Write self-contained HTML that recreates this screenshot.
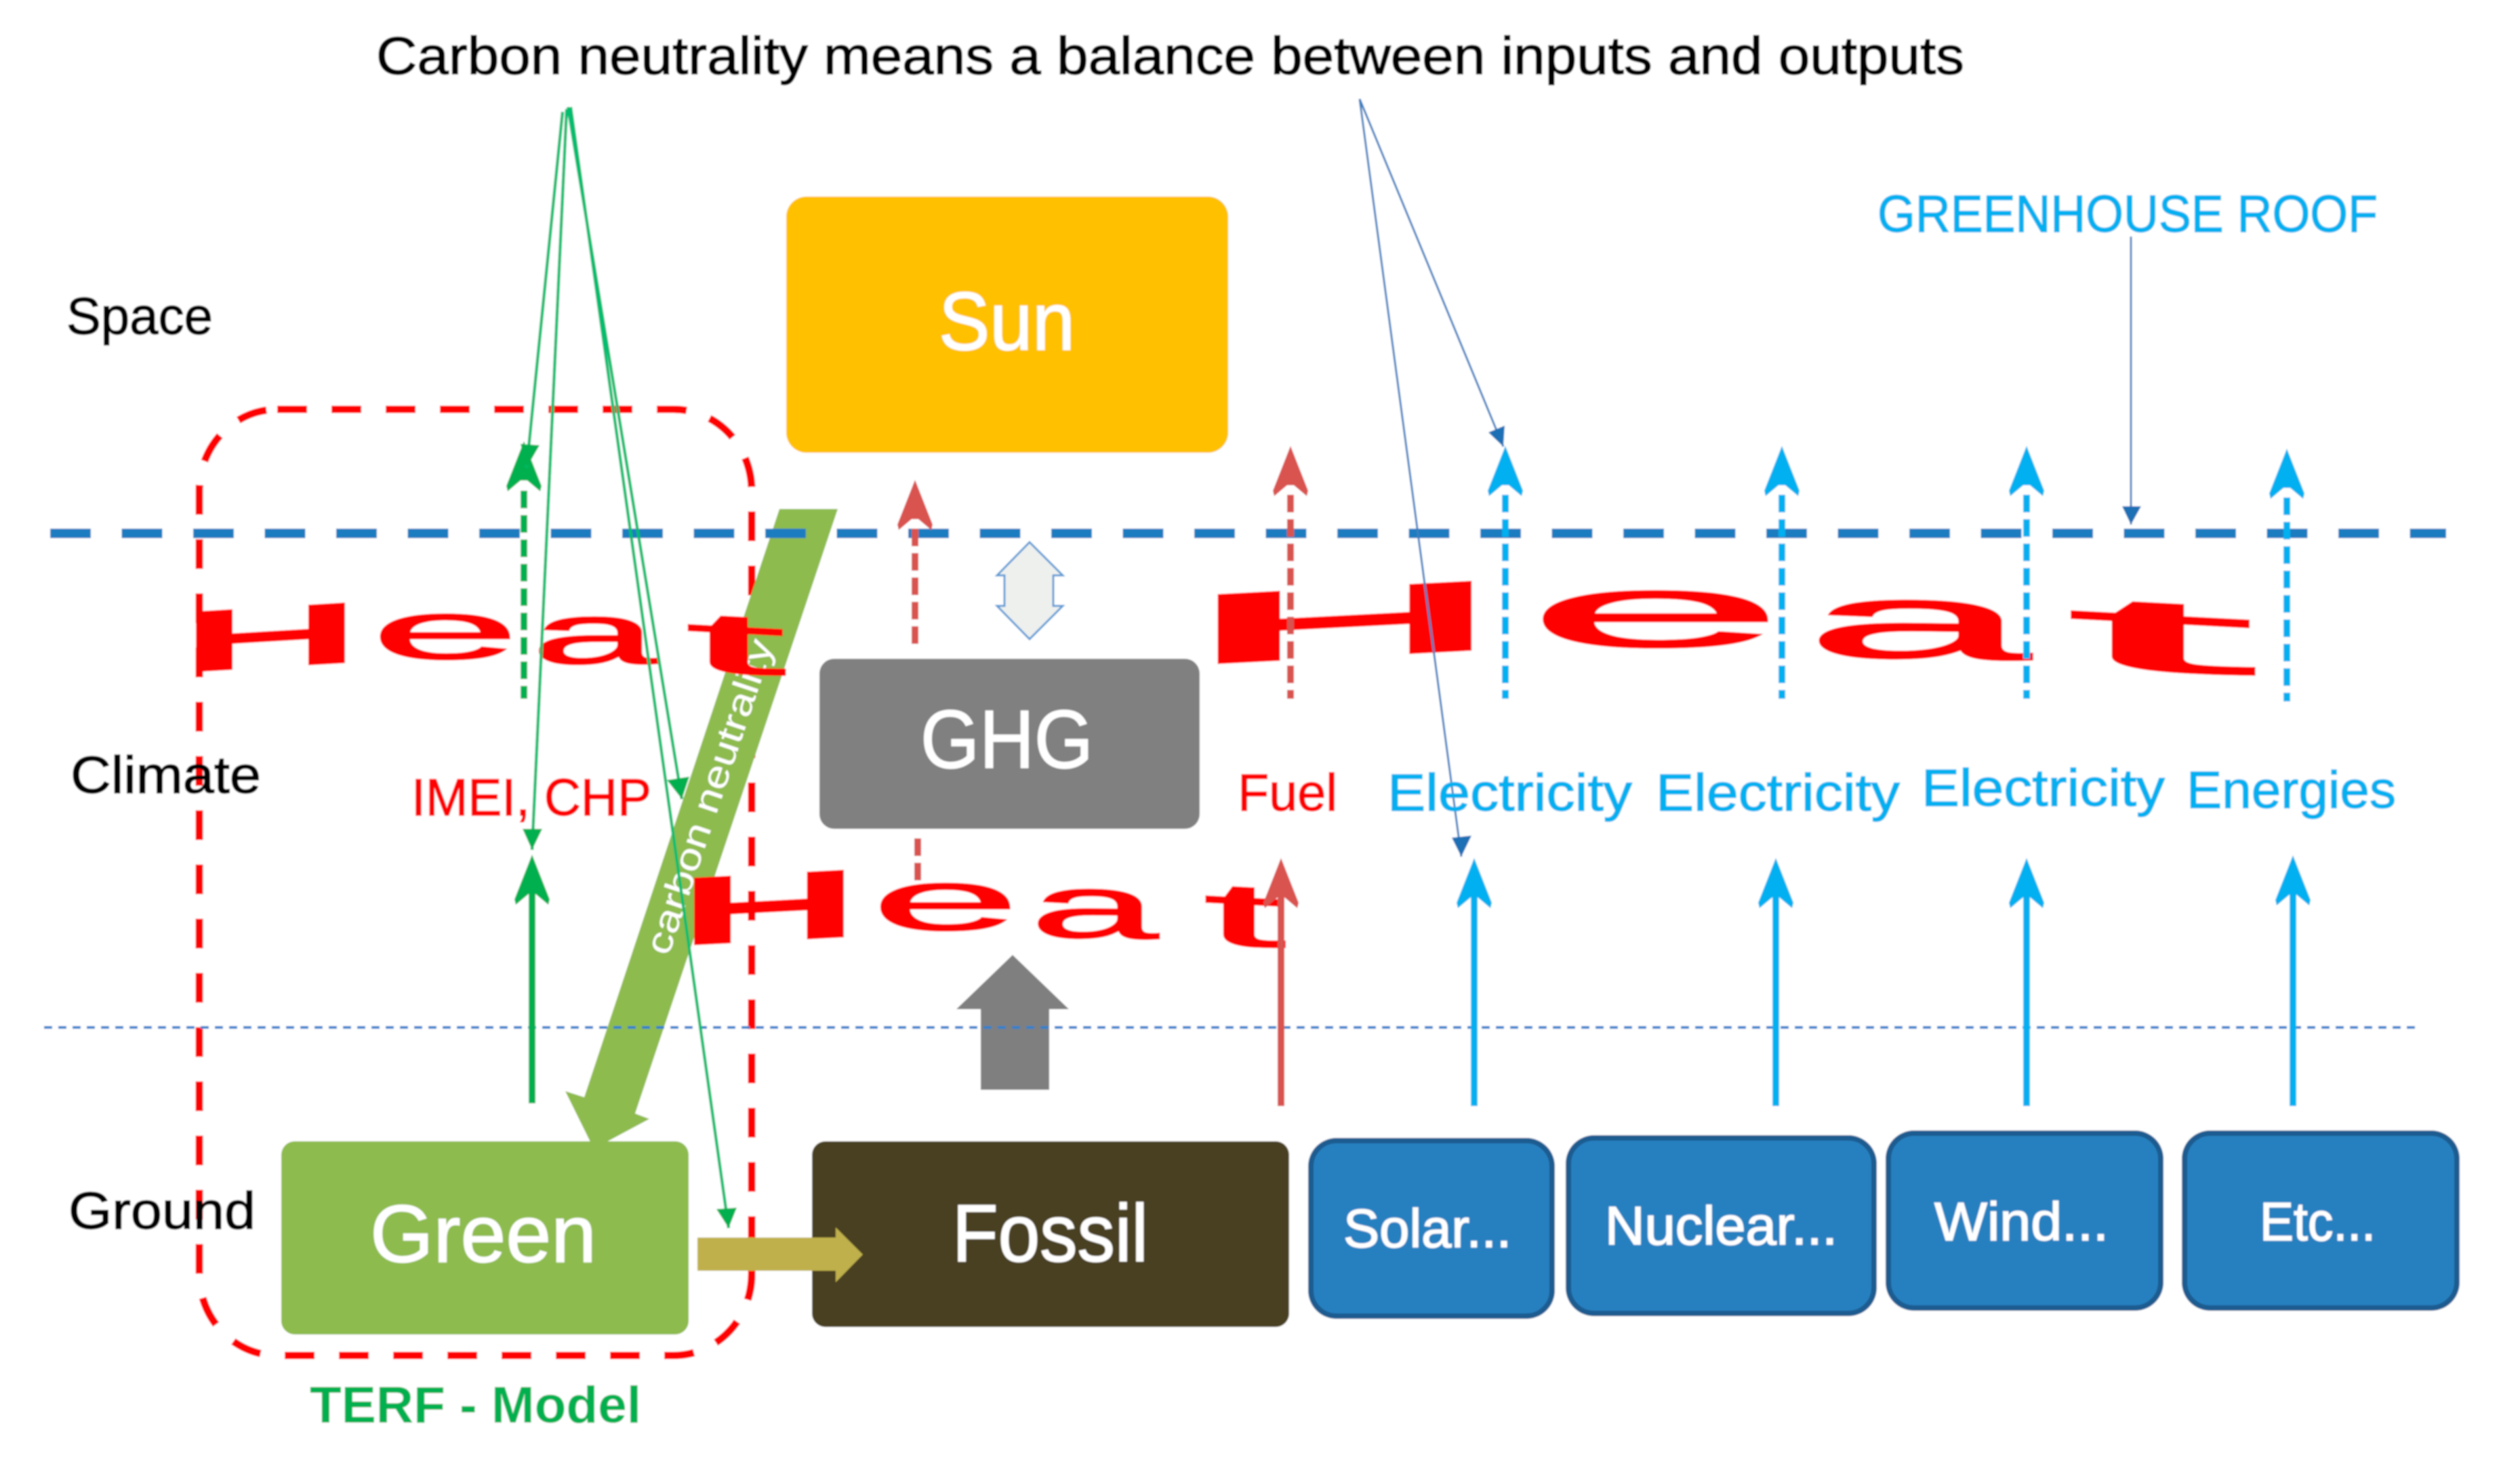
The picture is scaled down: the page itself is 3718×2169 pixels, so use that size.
<!DOCTYPE html>
<html>
<head>
<meta charset="utf-8">
<style>
html,body{margin:0;padding:0;background:#fff;width:3718px;height:2169px;overflow:hidden}
svg{display:block}
text{font-family:"Liberation Sans",sans-serif}
</style>
</head>
<body>
<svg xmlns="http://www.w3.org/2000/svg" width="3718" height="2169" viewBox="0 0 3718 2169">
<defs>
<filter id="soft" x="0" y="0" width="100%" height="100%"><feGaussianBlur stdDeviation="1"/></filter>
<polygon id="head" points="0,-4 26,62 24,70 5,54 -5,54 -24,70 -26,62"/>
</defs>
<g filter="url(#soft)">
<rect width="3718" height="2169" fill="#fff"/>

<!-- TERF boundary -->
<rect x="294" y="604" width="815" height="1396" rx="115" ry="120" fill="none" stroke="#f00" stroke-width="11" stroke-dasharray="44 36"/>

<!-- boxes -->
<rect x="1160" y="290" width="652" height="378" rx="30" fill="#FFC000"/>
<rect x="1209" y="972" width="561" height="251" rx="22" fill="#808080"/>
<rect x="415" y="1684" width="601" height="285" rx="20" fill="#8DBB4E"/>
<rect x="1198" y="1684" width="704" height="274" rx="20" fill="#4A3F21"/>
<g fill="#2880C0" stroke="#1A5C90" stroke-width="8">
<rect x="1934" y="1683" width="356" height="259" rx="38"/>
<rect x="2314" y="1679" width="451" height="259" rx="38"/>
<rect x="2786" y="1672" width="402" height="258" rx="38"/>
<rect x="3223" y="1672" width="402" height="258" rx="38"/>
</g>

<!-- big green arrow -->
<polygon points="1150,751 1236,751 937,1643 958,1651 876,1695 834,1610 862,1619" fill="#8DBB4E"/>
<text transform="translate(986,1412) rotate(-71.4)" font-size="54" fill="#fff" textLength="487" lengthAdjust="spacingAndGlyphs">carbon neutrality</text>

<!-- gold and gray block arrows -->
<polygon points="1029,1826 1233,1826 1233,1811 1273,1851 1233,1892 1233,1875 1029,1875" fill="#BFB04C"/>
<polygon points="1494,1409 1577,1489 1548,1489 1548,1608 1447,1608 1447,1489 1411,1489" fill="#7F7F7F"/>
<polygon points="1519,800 1568,849 1554,849 1554,894 1568,894 1519,943 1471,894 1482,894 1482,849 1471,849" fill="#EEF0EE" stroke="#5B9BD5" stroke-width="3"/>

<!-- Heat word art -->
<g fill="#f00">
<text transform="translate(264,993) skewY(-3.4)" font-weight="bold" font-size="130" textLength="270" lengthAdjust="spacingAndGlyphs">H</text>
<g stroke="#f00" stroke-width="2.5">
<text transform="translate(548,972)" font-size="122" textLength="218" lengthAdjust="spacingAndGlyphs">e</text>
<text transform="translate(784,979)" font-size="127" textLength="186" lengthAdjust="spacingAndGlyphs">a</text>
<text transform="translate(1012,989) skewY(3)" font-size="127" textLength="146" lengthAdjust="spacingAndGlyphs">t</text>
</g>

<text transform="translate(1754,982) skewY(-3)" font-weight="bold" font-size="150" textLength="460" lengthAdjust="spacingAndGlyphs">H</text>
<g stroke="#f00" stroke-width="3">
<text transform="translate(2254,954)" font-size="152" textLength="378" lengthAdjust="spacingAndGlyphs">e</text>
<text transform="translate(2664,968) skewY(1)" font-size="157" textLength="330" lengthAdjust="spacingAndGlyphs">a</text>
<text transform="translate(3050,982) skewY(3)" font-size="152" textLength="275" lengthAdjust="spacingAndGlyphs">t</text>
</g>

<text transform="translate(999,1396) skewY(-3)" font-weight="bold" font-size="145" textLength="271" lengthAdjust="spacingAndGlyphs">H</text>
<g stroke="#f00" stroke-width="2.5">
<text transform="translate(1286,1372)" font-size="127" textLength="218" lengthAdjust="spacingAndGlyphs">e</text>
<text transform="translate(1520,1382) skewY(1)" font-size="132" textLength="188" lengthAdjust="spacingAndGlyphs">a</text>
<text transform="translate(1776,1392) skewY(3)" font-size="132" textLength="120" lengthAdjust="spacingAndGlyphs">t</text>
</g>
</g>

<!-- horizontal dashed lines -->
<line x1="74" y1="787" x2="3609" y2="787" stroke="#1F7CC0" stroke-width="14" stroke-dasharray="60 45.5"/>
<line x1="65" y1="1516" x2="3564" y2="1516" stroke="#2F80CC" stroke-width="4" stroke-dasharray="12 9"/>

<!-- vertical arrows: dashed -->
<g stroke-width="10" stroke-dasharray="26 10" fill="none">
<line x1="773" y1="724" x2="773" y2="1031" stroke="#00B050"/>
<line x1="1350" y1="780" x2="1350" y2="956" stroke="#D9534F"/>
<line x1="1904" y1="730" x2="1904" y2="1031" stroke="#D9534F"/>
<line x1="2221" y1="730" x2="2221" y2="1031" stroke="#00B0F0"/>
<line x1="2629" y1="730" x2="2629" y2="1031" stroke="#00B0F0"/>
<line x1="2990" y1="730" x2="2990" y2="1031" stroke="#00B0F0"/>
<line x1="3374" y1="734" x2="3374" y2="1035" stroke="#00B0F0"/>
<line x1="1354" y1="1237" x2="1354" y2="1301" stroke="#D9534F"/>
</g>
<use href="#head" transform="translate(773,655)" fill="#00B050"/>
<use href="#head" transform="translate(1350,712)" fill="#D9534F"/>
<use href="#head" transform="translate(1904,662)" fill="#D9534F"/>
<use href="#head" transform="translate(2221,662)" fill="#00B0F0"/>
<use href="#head" transform="translate(2629,662)" fill="#00B0F0"/>
<use href="#head" transform="translate(2990,662)" fill="#00B0F0"/>
<use href="#head" transform="translate(3374,666)" fill="#00B0F0"/>

<!-- vertical arrows: solid -->
<g stroke-width="10" fill="none">
<line x1="785" y1="1310" x2="785" y2="1628" stroke="#00B050"/>
<line x1="1890" y1="1310" x2="1890" y2="1632" stroke="#D9534F"/>
<line x1="2175" y1="1310" x2="2175" y2="1632" stroke="#00B0F0"/>
<line x1="2620" y1="1310" x2="2620" y2="1632" stroke="#00B0F0"/>
<line x1="2990" y1="1310" x2="2990" y2="1632" stroke="#00B0F0"/>
<line x1="3383" y1="1306" x2="3383" y2="1632" stroke="#00B0F0"/>
</g>
<use href="#head" transform="translate(785,1265)" fill="#00B050"/>
<use href="#head" transform="translate(1890,1270)" fill="#D9534F"/>
<use href="#head" transform="translate(2175,1270)" fill="#00B0F0"/>
<use href="#head" transform="translate(2620,1270)" fill="#00B0F0"/>
<use href="#head" transform="translate(2990,1270)" fill="#00B0F0"/>
<use href="#head" transform="translate(3383,1266)" fill="#00B0F0"/>

<!-- thin green callouts -->
<g stroke="#00BD6F" stroke-width="4.5" fill="none">
<line x1="830" y1="165" x2="777" y2="690"/>
<line x1="836" y1="161" x2="785" y2="1254"/>
<line x1="838" y1="158" x2="1006" y2="1179"/>
<line x1="842" y1="158" x2="1075" y2="1812"/>
</g>
<g fill="#00B050">
<polygon points="777,690 768,655 796,657"/>
<polygon points="785,1254 771,1223 800,1223"/>
<polygon points="1006,1179 984,1151 1017,1146"/>
<polygon points="1075,1812 1057,1784 1087,1782"/>
</g>

<!-- thin blue callouts -->
<g stroke="#3A7FC0" stroke-width="3" fill="none">
<line x1="2006" y1="146" x2="2218" y2="659"/>
<line x1="2006" y1="146" x2="2156" y2="1264"/>
<line x1="3144" y1="349" x2="3144" y2="774"/>
</g>
<g fill="#1F6FB5">
<polygon points="2218,659 2196,638 2220,628"/>
<polygon points="2156,1264 2142,1236 2171,1233"/>
<polygon points="3144,774 3131,747 3159,747"/>
</g>

<!-- labels -->
<g stroke-width="1.4">
<text x="555" y="109" font-size="78" fill="#000" stroke="#000" textLength="2343" lengthAdjust="spacingAndGlyphs">Carbon neutrality means a balance between inputs and outputs</text>
<text x="98" y="493" font-size="77" fill="#000" stroke="#000" textLength="216" lengthAdjust="spacingAndGlyphs">Space</text>
<text x="104" y="1170" font-size="77" fill="#000" stroke="#000" textLength="281" lengthAdjust="spacingAndGlyphs">Climate</text>
<text x="101" y="1813" font-size="77" fill="#000" stroke="#000" textLength="276" lengthAdjust="spacingAndGlyphs">Ground</text>

<g fill="#fff" stroke="#fff">
<text x="1385" y="516" font-size="122" textLength="201" lengthAdjust="spacingAndGlyphs">Sun</text>
<text x="1358" y="1133" font-size="122" textLength="255" lengthAdjust="spacingAndGlyphs">GHG</text>
<text x="546" y="1862" font-size="120" textLength="334" lengthAdjust="spacingAndGlyphs">Green</text>
<text x="1405" y="1861" font-size="120" textLength="289" lengthAdjust="spacingAndGlyphs">Fossil</text>
<text x="1982" y="1840" font-size="80" textLength="248" lengthAdjust="spacingAndGlyphs">Solar...</text>
<text x="2368" y="1836" font-size="80" textLength="343" lengthAdjust="spacingAndGlyphs">Nuclear...</text>
<text x="2854" y="1830" font-size="80" textLength="257" lengthAdjust="spacingAndGlyphs">Wind...</text>
<text x="3334" y="1830" font-size="80" textLength="171" lengthAdjust="spacingAndGlyphs">Etc...</text>
</g>

<g fill="#f00" stroke="#f00" font-size="77">
<text x="607" y="1203" textLength="354" lengthAdjust="spacingAndGlyphs">IMEI, CHP</text>
<text x="1826" y="1196" textLength="147" lengthAdjust="spacingAndGlyphs">Fuel</text>
</g>
<g fill="#00B0F0" stroke="#00B0F0" font-size="77">
<text x="2047" y="1196" textLength="361" lengthAdjust="spacingAndGlyphs">Electricity</text>
<text x="2443" y="1196" textLength="360" lengthAdjust="spacingAndGlyphs">Electricity</text>
<text x="2835" y="1189" textLength="359" lengthAdjust="spacingAndGlyphs">Electricity</text>
<text x="3226" y="1192" textLength="309" lengthAdjust="spacingAndGlyphs">Energies</text>
<text x="2770" y="342" textLength="738" lengthAdjust="spacingAndGlyphs">GREENHOUSE ROOF</text>
</g>
</g>
<text x="457" y="2099" font-size="76" font-weight="bold" fill="#00B050" textLength="489" lengthAdjust="spacingAndGlyphs">TERF - Model</text>
</g>
</svg>
</body>
</html>
